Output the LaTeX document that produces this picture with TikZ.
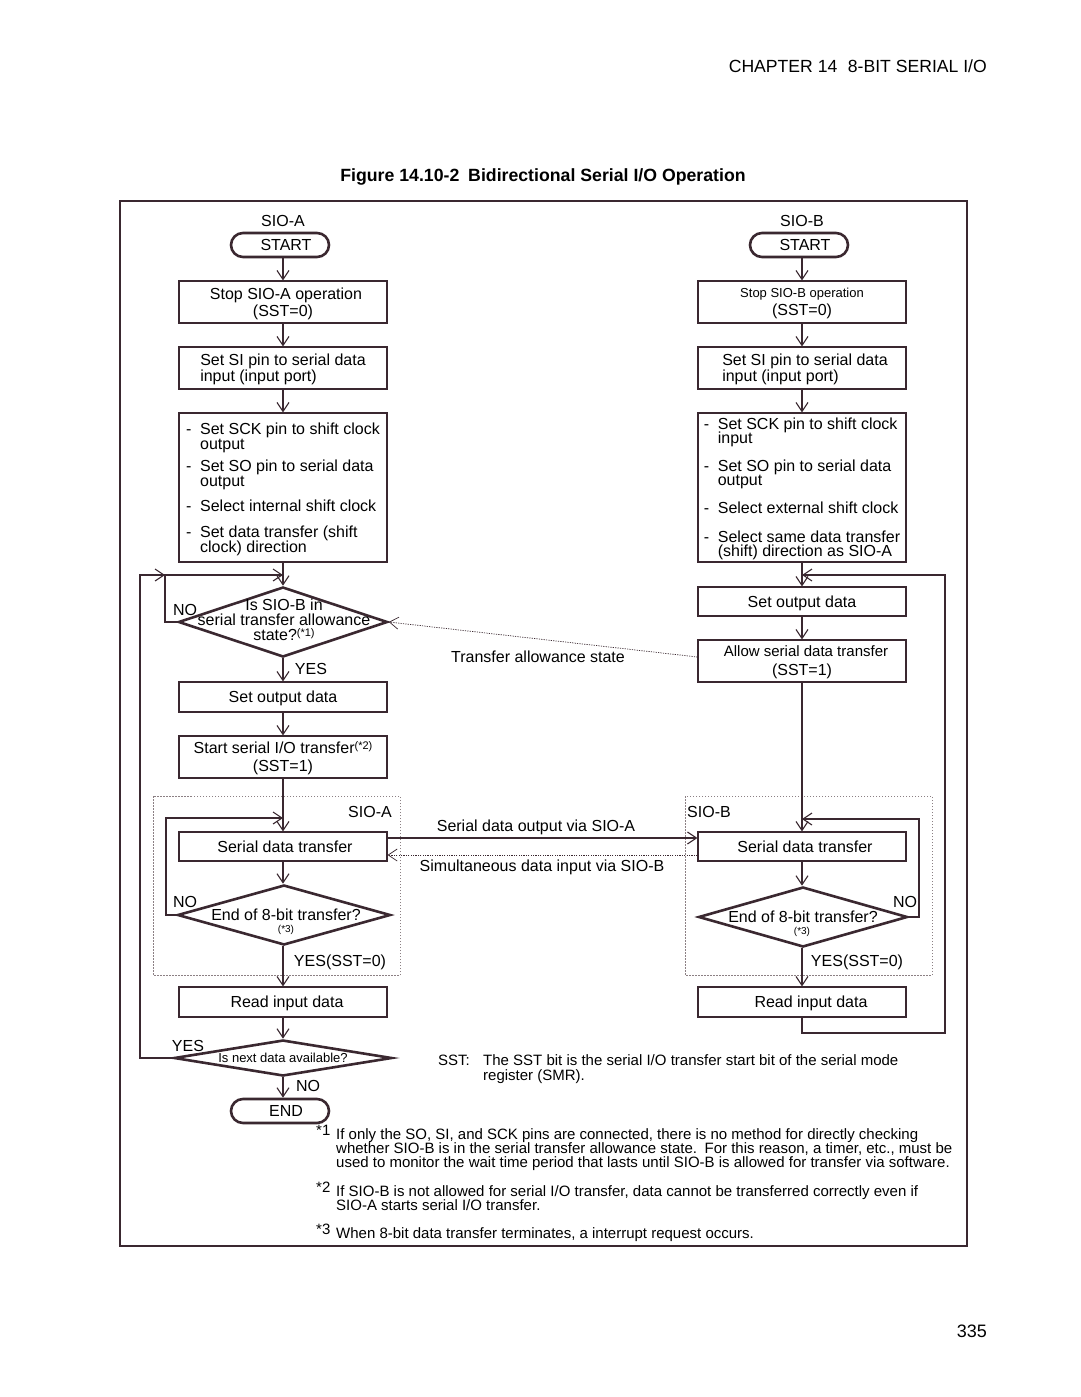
\documentclass[tikz,border=0pt]{standalone}
\usepackage{fontspec}
\setmainfont{Liberation Sans}
\usetikzlibrary{arrows.meta,shapes.geometric}
\definecolor{lc}{RGB}{58,40,48}
\definecolor{dotc}{RGB}{140,128,132}
\newcommand\fsz[1]{\fontsize{#1}{#1}\selectfont}
\newcommand\bitem{\makebox[14pt][l]{-}}
\newcommand\bcont{\hspace*{14pt}}
\newcommand\tightls{\lineskiplimit=-20pt\relax}
\begin{document}
\begin{tikzpicture}[x=1pt,y=-1pt,
 every node/.style={inner sep=0pt, text=black},
 box/.style={draw=lc, line width=1.2pt, minimum width=208pt, minimum height=42pt, font=\fontsize{16}{16}\selectfont, align=center, text depth=-2.5pt},
 term/.style={draw=lc, line width=2.6pt, rounded corners=12pt, minimum width=98pt, minimum height=24pt, font=\fsz{16}},
 dia/.style={diamond, draw=lc, line width=2.6pt},
 arr/.style={draw=lc, line width=1.1pt, -{Straight Barb[length=9pt,width=12pt]}},
 dotln/.style={draw=lc, line width=0.7pt, dash pattern=on 1.2pt off 1.2pt},
 dbox/.style={draw=dotc, line width=0.8pt, dash pattern=on 1.5pt off 1.5pt},
 lbl/.style={font=\fsz{16}},
 fn/.style={font=\fsz{15}, anchor=base west},
]
\useasboundingbox[fill=white] (0,0) rectangle (1080,1397);

% header and title
\node[font=\fsz{17.6}, anchor=base east] (hdr) at (987,73) {CHAPTER 14\hspace{0.6em}8-BIT SERIAL I/O};
\node[font=\bfseries\fsz{17.7}] (title) at (543,177) {Figure 14.10-2\hspace{0.5em}Bidirectional Serial I/O Operation};
\node[font=\fsz{18}, anchor=base east] (pgno) at (987,1337) {335};

% frame
\draw[lc, line width=2pt] (120,201) rectangle (967,1246);

% dotted group boxes
\draw[dbox] (153,796) rectangle (400,975);
\draw[dbox] (685,796) rectangle (932,975);

% ---------------- SIO-A column ----------------
\node[lbl] (sioA) at (283,221) {SIO-A};
\node[term] (startA) at (280,245) {\hspace*{12pt}START};
\node[box] (a1) at (283,302) {\hspace*{6pt}Stop SIO-A operation\\[1pt](SST=0)};
\node[box, align=left] (a2) at (283,368) {Set SI pin to serial data\\input (input port)};
\node[box, minimum height=149pt, align=left, font=\fontsize{16}{15}\selectfont\tightls] (a3) at (283,487.5)
 {\bitem Set SCK pin to shift clock\\\bcont output\\[7pt]\bitem Set SO pin to serial data\\\bcont output\\[10pt]\bitem Select internal shift clock\\[11pt]\bitem Set data transfer (shift\\\bcont clock) direction};
\node[dia, minimum width=209pt, minimum height=70pt] (d1) at (283,622) {};
\node[font=\fontsize{16}{15}\selectfont, align=center] (d1t) at (284,620) {Is SIO-B in\\serial transfer allowance\\state?\raisebox{4pt}{\fsz{11}(*1)}};
\node[box, minimum height=30pt] (a4) at (283,697) {Set output data};
\node[box] (a5) at (283,757) {Start serial I/O transfer\raisebox{4pt}{\fsz{11}(*2)}\\[2pt](SST=1)};
\node[lbl] (sioA2) at (370,812) {SIO-A};
\node[box, minimum height=29pt, text depth=-1pt] (a6) at (283,846.5) {\hspace*{4pt}Serial data transfer};
\node[dia, minimum width=213pt, minimum height=60pt] (d2) at (284,915) {};
\node[lbl] (d2t) at (286,915) {End of 8-bit transfer?};
\node[font=\fsz{10}] (d2n) at (286,930) {(*3)};
\node[box, minimum height=30pt] (a7) at (283,1002) {\hspace*{8pt}Read input data};
\node[dia, minimum width=218pt, minimum height=36pt] (d3) at (283,1058) {};
\node[font=\fsz{13}] (d3t) at (283,1058) {Is next data available?};
\node[term] (endA) at (280,1111) {\hspace*{12pt}END};

% labels left
\node[lbl] (noA1) at (185,610) {NO};
\node[lbl] (yesA1) at (311,669) {YES};
\node[lbl] (noA2) at (185,902) {NO};
\node[lbl] (yesA2) at (340,962) {YES(SST=0)};
\node[lbl] (yesA3) at (188,1046) {YES};
\node[lbl] (noA3) at (308,1086) {NO};

% ---------------- SIO-B column ----------------
\node[lbl] (sioB) at (802,221) {SIO-B};
\node[term] (startB) at (799,245) {\hspace*{12pt}START};
\node[box] (b1) at (802,302) {{\fsz{13}Stop SIO-B operation}\\[2pt](SST=0)};
\node[box, align=left] (b2) at (802,368) {\hspace*{6pt}Set SI pin to serial data\\\hspace*{6pt}input (input port)};
\node[box, minimum height=149pt, align=left, font=\fontsize{16}{14}\selectfont\tightls] (b3) at (802,487.5)
 {\bitem Set SCK pin to shift clock\\\bcont input\\[14pt]\bitem Set SO pin to serial data\\\bcont output\\[14pt]\bitem Select external shift clock\\[15pt]\bitem Select same data transfer\\\bcont (shift) direction as SIO-A};
\node[box, minimum height=29pt] (b4) at (802,601.5) {Set output data};
\node[box] (b5) at (802,661) {\hspace*{8pt}{\fsz{15}Allow serial data transfer}\\[3pt](SST=1)};
\node[lbl, anchor=west] (sioB2) at (687,812) {SIO-B};
\node[box, minimum height=29pt, text depth=-1pt] (b6) at (802,846.5) {\hspace*{6pt}Serial data transfer};
\node[dia, minimum width=209pt, minimum height=60pt] (d4) at (803,917) {};
\node[lbl] (d4t) at (803,917) {End of 8-bit transfer?};
\node[font=\fsz{10}] (d4n) at (802,932) {(*3)};
\node[box, minimum height=30pt] (b7) at (802,1002) {\hspace*{18pt}Read input data};

\node[lbl] (noB1) at (905,902) {NO};
\node[lbl] (yesB1) at (857,962) {YES(SST=0)};

% middle labels
\node[lbl] (tas) at (538,657) {Transfer allowance state};
\node[lbl] (sdo) at (536,827) {Serial data output via SIO-A};
\node[lbl] (sdi) at (542,867) {Simultaneous data input via SIO-B};

% ---------------- coordinates ----------------
\coordinate (jA) at (283,575);
\coordinate (jAno) at (165,575);
\coordinate (cA1) at (165,622);
\coordinate (cA2) at (140,1058);
\coordinate (cA3) at (140,575);
\coordinate (jA2) at (283,818);
\coordinate (cA4) at (166,915);
\coordinate (cA5) at (166,818);
\coordinate (jB) at (802,575);
\coordinate (cB1) at (802,1033);
\coordinate (cB2) at (945,1033);
\coordinate (cB3) at (945,575);
\coordinate (jB2) at (802,819);
\coordinate (cB4) at (919,917);
\coordinate (cB5) at (919,819);

% ---------------- connectors left ----------------
\draw[arr] (startA.south -| a1.north) -- (a1.north);
\draw[arr] (a1.south) -- (a2.north);
\draw[arr] (a2.south) -- (a3.north);
\draw[arr] (a3.south) -- (d1.north);
\draw[arr] (d1.west) -- (cA1) -- (jAno) -- (jA);
\draw[arr] (d3.west) -- (cA2) -- (cA3) -- (jAno);
\draw[arr] (d1.south) -- (a4.north);
\draw[arr] (a4.south) -- (a5.north);
\draw[arr] (a5.south) -- (a6.north);
\draw[arr] (d2.west) -- (cA4) -- (cA5) -- (jA2);
\draw[arr] (a6.south) -- (a6.south |- d2.north);
\draw[arr] (d2.south -| a7.north) -- (a7.north);
\draw[arr] (a7.south) -- (d3.north);
\draw[arr] (d3.south) -- (endA.north -| d3.south);

% ---------------- connectors right ----------------
\draw[arr] (startB.south -| b1.north) -- (b1.north);
\draw[arr] (b1.south) -- (b2.north);
\draw[arr] (b2.south) -- (b3.north);
\draw[arr] (b3.south) -- (b4.north);
\draw[arr] (b7.south) -- (cB1) -- (cB2) -- (cB3) -- (jB);
\draw[arr] (b4.south) -- (b5.north);
\draw[arr] (b5.south) -- (b6.north);
\draw[arr] (d4.east) -- (cB4) -- (cB5) -- (jB2);
\draw[arr] (b6.south) -- (b6.south |- d4.north);
\draw[arr] (d4.south -| b7.north) -- (b7.north);

% ---------------- cross connectors ----------------
\draw[dotln, -{Straight Barb[length=9pt,width=12pt]}] ([yshift=4pt]b5.west) -- (d1.east);
\draw[arr] ([yshift=8.5pt]a6.east) -- ([yshift=8.5pt]b6.west);
\draw[dotln, -{Straight Barb[length=9pt,width=12pt]}] ([yshift=-8.5pt]b6.west) -- ([yshift=-8.5pt]a6.east);

% ---------------- notes ----------------
\node[fn] (sst) at (438,1065.5) {SST:};
\node[fn] (sst1) at (483,1065.5) {The SST bit is the serial I/O transfer start bit of the serial mode};
\node[fn] (sst2) at (483,1080) {register (SMR).};
\node[fn, font=\fsz{15}] (m1) at (316,1135) {*1};
\node[fn] (f1a) at (336,1139.5) {If only the SO, SI, and SCK pins are connected, there is no method for directly checking};
\node[fn] (f1b) at (336,1153.5) {whether SIO-B is in the serial transfer allowance state.\hspace{0.5em}For this reason, a timer, etc., must be};
\node[fn] (f1c) at (336,1167.5) {used to monitor the wait time period that lasts until SIO-B is allowed for transfer via software.};
\node[fn] (m2) at (316,1192) {*2};
\node[fn] (f2a) at (336,1196.5) {If SIO-B is not allowed for serial I/O transfer, data cannot be transferred correctly even if};
\node[fn] (f2b) at (336,1210.5) {SIO-A starts serial I/O transfer.};
\node[fn] (m3) at (316,1234) {*3};
\node[fn] (f3a) at (336,1238.5) {When 8-bit data transfer terminates, a interrupt request occurs.};
\end{tikzpicture}
\end{document}
